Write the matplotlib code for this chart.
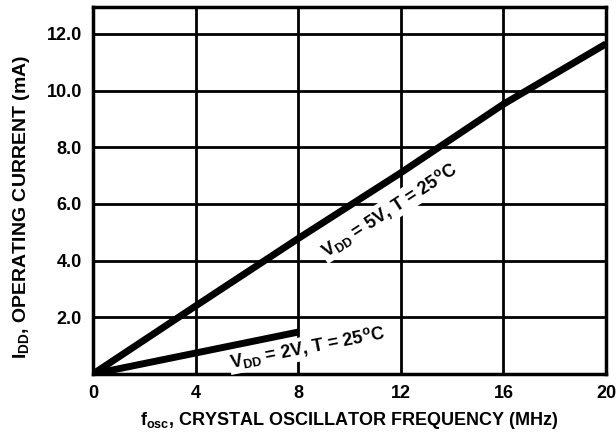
import matplotlib
matplotlib.use("Agg")
import matplotlib.pyplot as plt

# Data
freq_5v = [0, 4, 8, 12, 16, 20]
idd_5v = [0, 2.4, 4.78, 7.1, 9.52, 11.65]
freq_2v = [0, 4, 8]
idd_2v = [0, 0.74, 1.48]
x_ticks = [0, 4, 8, 12, 16, 20]
y_ticks = [2, 4, 6, 8, 10, 12]
y_tick_labels = ["2.0", "4.0", "6.0", "8.0", "10.0", "12.0"]

plt.rcParams['font.family'] = ['Liberation Sans', 'DejaVu Sans']
plt.rcParams['font.weight'] = 'bold'
plt.rcParams['mathtext.fontset'] = 'custom'
plt.rcParams['mathtext.rm'] = 'Liberation Sans:bold'
plt.rcParams['mathtext.it'] = 'Liberation Sans:bold'
plt.rcParams['mathtext.bf'] = 'Liberation Sans:bold'

FS = 13

fig = plt.figure(figsize=(6.16, 4.36), dpi=100)
ax = fig.add_axes([93/616, 1-374/436, (606-93)/616, (374-7)/436])

ax.set_xlim(0, 20)
ax.set_ylim(0, 12.95)
ax.set_xticks(x_ticks)
ax.set_xticklabels([str(v) for v in x_ticks])
ax.set_yticks(y_ticks)
ax.set_yticklabels(y_tick_labels)
ax.tick_params(length=0, labelsize=FS, pad=8)
for lab in ax.get_xticklabels() + ax.get_yticklabels():
    lab.set_fontweight('bold')

ax.grid(True, color='black', linewidth=2.0)
ax.set_axisbelow(True)
for s in ax.spines.values():
    s.set_linewidth(2.5)
    s.set_color('black')

ax.plot(freq_5v, idd_5v, color='black', linewidth=5, solid_capstyle='butt', zorder=3)
ax.plot(freq_2v, idd_2v, color='black', linewidth=5, solid_capstyle='butt', zorder=3)

bbox = dict(facecolor='white', edgecolor='none', pad=1)
ax.text(11.54, 5.78, r"V$_{\mathrm{DD}}$ = 5V, T = 25$^{\mathrm{o}}$C", rotation=33,
        ha='center', va='center', fontsize=FS, fontweight='bold', bbox=bbox, zorder=4,
        rotation_mode='anchor')
ax.text(8.38, 0.92, r"V$_{\mathrm{DD}}$ = 2V, T = 25$^{\mathrm{o}}$C", rotation=11,
        ha='center', va='center', fontsize=FS, fontweight='bold', bbox=bbox, zorder=4,
        rotation_mode='anchor')

ax.set_xlabel(r"f$_{\mathrm{osc}}$, CRYSTAL OSCILLATOR FREQUENCY (MHz)", fontsize=FS,
              fontweight='bold', labelpad=6)
ax.set_ylabel(r"I$_{\mathrm{DD}}$, OPERATING CURRENT (mA)", fontsize=14,
              fontweight='bold', va='center')
ax.yaxis.set_label_coords(-0.140, 0.456)

fig.savefig("out.png", dpi=100)
